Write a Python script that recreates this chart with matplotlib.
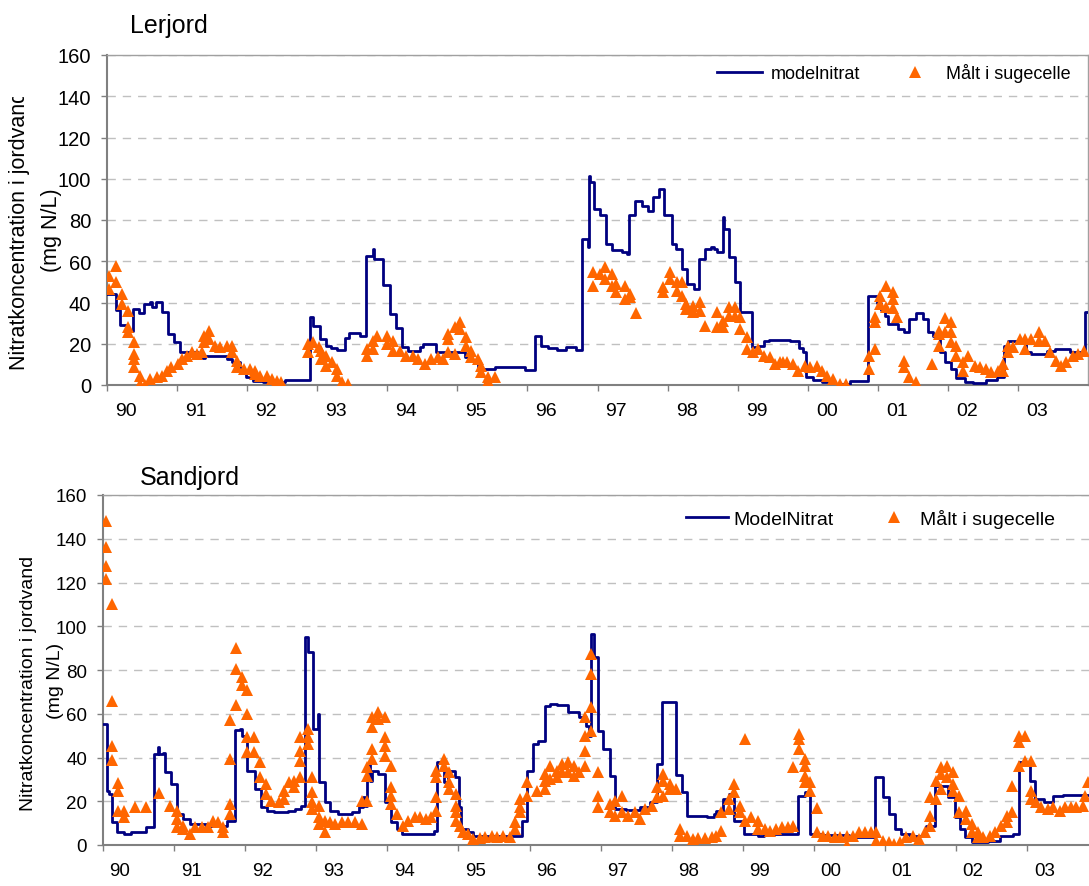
import matplotlib

matplotlib.use("Agg")

import matplotlib.pyplot as plt
import numpy as np
from matplotlib.transforms import Bbox, TransformedBbox

plt.rcParams["font.family"] = ["Liberation Sans", "DejaVu Sans"]

YEAR_LABELS = ["90", "91", "92", "93", "94", "95", "96", "97", "98", "99", "00", "01", "02", "03"]

# Lerjord: model (step) and measured values, x in decimal years
lerjord_model_x = [
    1990.00, 1990.13, 1990.19, 1990.28, 1990.37, 1990.46, 1990.53, 1990.62, 1990.64, 1990.70,
    1990.79, 1990.87, 1990.96, 1991.04, 1991.30, 1991.40, 1991.71, 1991.79, 1991.90, 1991.99,
    1992.09, 1992.23, 1992.54, 1992.90, 1992.94, 1993.04, 1993.13, 1993.20, 1993.28, 1993.40,
    1993.46, 1993.61, 1993.70, 1993.79, 1993.81, 1993.94, 1994.04, 1994.12, 1994.21, 1994.30,
    1994.46, 1994.51, 1994.70, 1995.11, 1995.20, 1995.30, 1995.54, 1995.96, 1996.11, 1996.20,
    1996.30, 1996.42, 1996.55, 1996.70, 1996.78, 1996.87, 1996.88, 1996.89, 1996.95, 1997.03,
    1997.12, 1997.21, 1997.35, 1997.42, 1997.45, 1997.54, 1997.63, 1997.72, 1997.79, 1997.88,
    1997.95, 1998.06, 1998.12, 1998.20, 1998.28, 1998.38, 1998.45, 1998.53, 1998.62, 1998.66,
    1998.70, 1998.79, 1998.80, 1998.87, 1998.96, 1999.03, 1999.20, 1999.30, 1999.37, 1999.45,
    1999.75, 1999.88, 1999.93, 1999.98, 2000.08, 2000.20, 2000.35, 2000.60, 2000.86, 2000.99,
    2001.05, 2001.10, 2001.15, 2001.29, 2001.37, 2001.45, 2001.55, 2001.64, 2001.72, 2001.79,
    2001.89, 2001.96, 2002.05, 2002.12, 2002.24, 2002.36, 2002.55, 2002.70, 2002.80, 2002.86,
    2003.00, 2003.12, 2003.19, 2003.41, 2003.53, 2003.74, 2003.96, 2004.00,
]
lerjord_model_y = [
    44.0, 36.5, 29.2, 26.3, 36.8, 34.9, 39.3, 40.4, 38.0, 40.4,
    35.5, 24.7, 21.0, 15.8, 13.0, 14.2, 12.6, 11.0, 6.9, 3.7,
    2.1, 1.3, 2.4, 33.1, 28.8, 22.3, 19.1, 17.8, 17.0, 22.8,
    25.0, 23.9, 62.7, 65.9, 61.1, 48.6, 34.4, 27.5, 18.3, 16.5,
    18.3, 19.9, 15.8, 13.4, 11.8, 7.8, 8.9, 7.3, 23.9, 19.1,
    18.0, 17.1, 18.3, 17.1, 70.8, 66.8, 101.2, 98.3, 85.3, 82.4,
    68.4, 65.6, 64.5, 63.5, 82.4, 89.4, 86.9, 84.5, 91.0, 95.0,
    82.4, 68.4, 65.9, 56.2, 49.0, 46.5, 61.1, 65.9, 67.0, 66.0,
    64.3, 81.3, 75.6, 61.9, 50.1, 35.5, 18.3, 19.0, 21.2, 21.8,
    21.2, 17.8, 15.8, 3.7, 2.6, 1.3, 0.5, 1.8, 43.3, 39.8,
    36.5, 33.6, 29.6, 27.2, 25.9, 32.0, 34.9, 32.0, 25.9, 23.9,
    15.8, 11.3, 7.8, 3.2, 1.6, 0.8, 2.6, 3.7, 19.1, 21.5,
    20.5, 15.8, 15.0, 16.5, 17.5, 16.2, 35.2, 35.2,
]
lerjord_obs_x = [
    1990.03, 1990.03, 1990.13, 1990.13, 1990.21, 1990.21, 1990.30, 1990.30, 1990.30, 1990.38,
    1990.38, 1990.38, 1990.38, 1990.47, 1990.47, 1990.54, 1990.61, 1990.71, 1990.78, 1990.85,
    1990.92, 1991.02, 1991.07, 1991.14, 1991.21, 1991.28, 1991.35, 1991.38, 1991.38, 1991.45,
    1991.45, 1991.54, 1991.61, 1991.71, 1991.78, 1991.78, 1991.86, 1991.86, 1991.95, 1992.04,
    1992.11, 1992.11, 1992.18, 1992.28, 1992.35, 1992.42, 1992.49, 1992.87, 1992.87, 1992.94,
    1993.02, 1993.06, 1993.06, 1993.13, 1993.13, 1993.21, 1993.28, 1993.28, 1993.35, 1993.44,
    1993.71, 1993.71, 1993.80, 1993.80, 1993.86, 1993.99, 1993.99, 1994.08, 1994.08, 1994.18,
    1994.27, 1994.37, 1994.44, 1994.54, 1994.63, 1994.73, 1994.80, 1994.87, 1994.87, 1994.87,
    1994.97, 1994.97, 1995.04, 1995.04, 1995.13, 1995.13, 1995.20, 1995.20, 1995.30, 1995.34,
    1995.34, 1995.44, 1995.44, 1995.54, 1996.94, 1996.94, 1997.03, 1997.11, 1997.11, 1997.20,
    1997.20, 1997.27, 1997.27, 1997.39, 1997.39, 1997.46, 1997.46, 1997.55, 1997.94, 1997.94,
    1998.03, 1998.03, 1998.13, 1998.13, 1998.20, 1998.20, 1998.27, 1998.27, 1998.37, 1998.37,
    1998.46, 1998.46, 1998.53, 1998.70, 1998.70, 1998.79, 1998.79, 1998.87, 1998.87, 1998.96,
    1998.96, 1999.03, 1999.03, 1999.13, 1999.13, 1999.22, 1999.29, 1999.37, 1999.46, 1999.53,
    1999.60, 1999.65, 1999.70, 1999.79, 1999.86, 1999.96, 2000.03, 2000.13, 2000.20, 2000.27,
    2000.36, 2000.46, 2000.55, 2000.88, 2000.88, 2000.96, 2000.96, 2000.96, 2001.03, 2001.03,
    2001.12, 2001.12, 2001.21, 2001.21, 2001.21, 2001.28, 2001.38, 2001.38, 2001.45, 2001.54,
    2001.78, 2001.88, 2001.88, 2001.88, 2001.96, 2001.96, 2002.05, 2002.05, 2002.05, 2002.12,
    2002.12, 2002.22, 2002.22, 2002.29, 2002.39, 2002.46, 2002.55, 2002.62, 2002.72, 2002.79,
    2002.79, 2002.86, 2002.86, 2002.93, 2003.03, 2003.10, 2003.10, 2003.19, 2003.30, 2003.30,
    2003.39, 2003.46, 2003.54, 2003.62, 2003.69, 2003.79, 2003.86, 2003.95,
]
lerjord_obs_y = [
    46.5, 53.0, 57.8, 49.8, 44.1, 39.3, 36.0, 28.0, 25.5, 20.7,
    15.0, 12.6, 8.6, 4.5, 0.5, 0.0, 2.9, 3.7, 4.5, 6.9,
    8.5, 10.2, 12.6, 14.2, 15.8, 15.0, 15.8, 23.9, 20.7, 26.3,
    22.3, 19.1, 18.3, 19.1, 19.1, 15.8, 11.8, 8.5, 7.8, 7.8,
    6.9, 5.3, 4.5, 4.5, 2.9, 2.1, 1.3, 19.9, 15.8, 20.7,
    18.3, 16.6, 12.6, 14.2, 9.4, 11.0, 7.8, 4.5, 1.3, 0.5,
    17.5, 14.2, 21.5, 17.5, 23.9, 23.9, 20.0, 21.5, 16.7, 16.6,
    14.2, 14.2, 12.6, 10.2, 12.6, 13.4, 12.6, 15.8, 22.3, 24.7,
    15.0, 28.0, 30.4, 27.2, 23.1, 19.1, 16.6, 13.4, 12.6, 9.4,
    6.1, 3.7, 2.1, 3.7, 54.6, 48.1, 53.8, 57.0, 51.4, 53.8,
    48.1, 49.0, 44.9, 48.1, 41.7, 44.1, 42.5, 34.9, 47.3, 44.9,
    54.6, 51.4, 49.8, 45.7, 49.8, 43.3, 39.3, 36.8, 38.4, 35.2,
    40.1, 36.0, 28.8, 35.2, 28.0, 31.2, 28.0, 37.6, 33.6, 37.6,
    33.6, 27.2, 32.8, 23.1, 17.5, 15.8, 17.5, 14.2, 13.4, 10.2,
    11.0, 11.0, 11.0, 10.2, 6.9, 9.4, 8.5, 9.4, 6.9, 4.5,
    2.9, 0.5, 0.5, 7.8, 14.2, 17.5, 30.4, 32.8, 43.3, 39.3,
    48.1, 37.6, 44.9, 41.7, 37.2, 32.8, 11.8, 8.5, 3.7, 1.3,
    10.2, 26.3, 24.7, 19.1, 32.3, 25.5, 30.4, 25.5, 20.7, 19.1,
    14.2, 11.0, 6.9, 14.2, 9.4, 8.5, 7.8, 6.1, 6.9, 10.2,
    6.9, 19.1, 15.8, 18.3, 22.3, 22.3, 17.5, 22.3, 25.5, 21.5,
    21.5, 15.8, 11.8, 9.4, 11.0, 14.2, 15.0, 16.6,
]

# Sandjord: model (step) and measured values
sandjord_model_x = [
    1990.00, 1990.03, 1990.05, 1990.09, 1990.12, 1990.19, 1990.29, 1990.40, 1990.55, 1990.61,
    1990.72, 1990.77, 1990.79, 1990.85, 1990.87, 1990.96, 1991.04, 1991.13, 1991.22, 1991.45,
    1991.74, 1991.86, 1991.93, 1991.96, 1992.03, 1992.14, 1992.22, 1992.30, 1992.40, 1992.60,
    1992.70, 1992.79, 1992.84, 1992.88, 1992.96, 1993.03, 1993.04, 1993.12, 1993.19, 1993.30,
    1993.50, 1993.60, 1993.66, 1993.68, 1993.71, 1993.76, 1993.78, 1993.87, 1993.97, 1994.05,
    1994.13, 1994.20, 1994.65, 1994.70, 1994.79, 1994.85, 1994.95, 1995.01, 1995.04, 1995.14,
    1995.21, 1995.89, 1995.96, 1996.05, 1996.12, 1996.22, 1996.29, 1996.38, 1996.54, 1996.70,
    1996.80, 1996.84, 1996.87, 1996.90, 1996.97, 1997.04, 1997.13, 1997.20, 1997.35, 1997.55,
    1997.69, 1997.79, 1997.87, 1997.96, 1998.06, 1998.14, 1998.21, 1998.50, 1998.60, 1998.63,
    1998.72, 1998.80, 1998.87, 1999.01, 1999.22, 1999.30, 1999.78, 1999.87, 1999.94, 2000.10,
    2000.50, 2000.86, 2000.97, 2001.05, 2001.14, 2001.22, 2001.35, 2001.58, 2001.70, 2001.89,
    2001.98, 2002.05, 2002.13, 2002.22, 2002.45, 2002.62, 2002.80, 2002.89, 2003.04, 2003.11,
    2003.23, 2003.37, 2003.50, 2003.90,
]
sandjord_model_y = [
    55.3, 55.3, 24.8, 23.3, 10.4, 5.8, 5.0, 5.8, 5.8, 8.1,
    41.6, 44.7, 41.6, 42.0, 33.2, 27.9, 14.2, 11.9, 9.6, 8.5,
    11.1, 52.7, 53.0, 50.0, 34.0, 25.6, 17.2, 15.7, 14.9, 15.5,
    16.5, 18.0, 94.9, 88.1, 53.0, 59.9, 28.7, 19.5, 15.7, 14.2,
    15.0, 17.5, 22.0, 18.0, 37.0, 29.4, 34.0, 32.5, 19.5, 10.4,
    7.3, 5.0, 6.5, 37.8, 28.7, 34.0, 30.9, 17.2, 7.3, 6.1,
    4.0, 11.1, 34.0, 46.2, 47.7, 63.4, 64.5, 64.0, 60.6, 58.4,
    54.5, 50.0, 96.4, 85.8, 52.2, 43.9, 31.7, 16.5, 16.0, 17.5,
    19.5, 37.0, 65.2, 65.2, 32.0, 24.4, 13.4, 13.0, 14.2, 15.7,
    21.0, 23.3, 11.1, 5.0, 4.0, 5.0, 22.5, 24.1, 5.0, 4.5,
    3.5, 30.9, 21.8, 14.2, 7.3, 5.0, 4.0, 8.8, 27.1, 21.8,
    12.7, 7.3, 3.5, 1.2, 2.0, 4.0, 5.0, 37.8, 29.4, 21.0,
    19.5, 22.3, 22.9, 22.5,
]
sandjord_obs_x = [
    1990.04, 1990.04, 1990.04, 1990.04, 1990.13, 1990.13, 1990.13, 1990.13, 1990.21, 1990.21,
    1990.21, 1990.30, 1990.30, 1990.45, 1990.61, 1990.79, 1990.94, 1991.04, 1991.04, 1991.04,
    1991.12, 1991.12, 1991.22, 1991.29, 1991.39, 1991.48, 1991.55, 1991.62, 1991.69, 1991.69,
    1991.79, 1991.79, 1991.79, 1991.79, 1991.87, 1991.87, 1991.87, 1991.95, 1991.95, 1992.03,
    1992.03, 1992.03, 1992.03, 1992.13, 1992.13, 1992.21, 1992.21, 1992.29, 1992.29, 1992.37,
    1992.47, 1992.54, 1992.54, 1992.61, 1992.69, 1992.69, 1992.77, 1992.77, 1992.77, 1992.77,
    1992.88, 1992.88, 1992.88, 1992.94, 1992.94, 1992.94, 1992.94, 1993.04, 1993.04, 1993.04,
    1993.12, 1993.12, 1993.19, 1993.26, 1993.36, 1993.45, 1993.54, 1993.64, 1993.64, 1993.71,
    1993.71, 1993.71, 1993.79, 1993.79, 1993.79, 1993.79, 1993.87, 1993.87, 1993.97, 1993.97,
    1993.97, 1993.97, 1994.05, 1994.05, 1994.05, 1994.05, 1994.13, 1994.22, 1994.29, 1994.39,
    1994.46, 1994.55, 1994.62, 1994.69, 1994.69, 1994.69, 1994.69, 1994.79, 1994.79, 1994.87,
    1994.87, 1994.87, 1994.96, 1994.96, 1994.96, 1994.96, 1995.02, 1995.06, 1995.14, 1995.21,
    1995.30, 1995.37, 1995.47, 1995.54, 1995.63, 1995.72, 1995.79, 1995.79, 1995.87, 1995.87,
    1995.87, 1995.96, 1995.96, 1996.10, 1996.22, 1996.22, 1996.22, 1996.29, 1996.29, 1996.38,
    1996.38, 1996.45, 1996.45, 1996.54, 1996.54, 1996.63, 1996.63, 1996.70, 1996.78, 1996.78,
    1996.78, 1996.78, 1996.87, 1996.87, 1996.87, 1996.87, 1996.97, 1996.97, 1996.97, 1997.13,
    1997.13, 1997.20, 1997.20, 1997.30, 1997.30, 1997.39, 1997.48, 1997.55, 1997.62, 1997.72,
    1997.79, 1997.79, 1997.88, 1997.88, 1997.88, 1997.97, 1997.97, 1998.06, 1998.12, 1998.12,
    1998.21, 1998.30, 1998.37, 1998.47, 1998.56, 1998.63, 1998.70, 1998.70, 1998.80, 1998.80,
    1998.87, 1998.87, 1998.96, 1998.96, 1999.03, 1999.03, 1999.12, 1999.22, 1999.22, 1999.31,
    1999.38, 1999.47, 1999.55, 1999.64, 1999.71, 1999.71, 1999.79, 1999.79, 1999.79, 1999.87,
    1999.87, 1999.87, 1999.87, 1999.95, 1999.95, 2000.05, 2000.05, 2000.13, 2000.20, 2000.30,
    2000.37, 2000.47, 2000.47, 2000.55, 2000.64, 2000.72, 2000.80, 2000.88, 2000.88, 2000.97,
    2001.05, 2001.12, 2001.21, 2001.30, 2001.40, 2001.48, 2001.56, 2001.63, 2001.63, 2001.63,
    2001.72, 2001.72, 2001.79, 2001.79, 2001.79, 2001.87, 2001.87, 2001.96, 2001.96, 2001.96,
    2002.04, 2002.04, 2002.14, 2002.14, 2002.22, 2002.22, 2002.31, 2002.31, 2002.38, 2002.48,
    2002.55, 2002.63, 2002.71, 2002.71, 2002.79, 2002.79, 2002.89, 2002.89, 2002.89, 2002.97,
    2002.97, 2003.06, 2003.06, 2003.06, 2003.13, 2003.20, 2003.30, 2003.37, 2003.46, 2003.53,
    2003.62, 2003.69, 2003.79, 2003.81, 2003.86,
]
sandjord_obs_y = [
    148.3, 136.1, 127.7, 121.6, 110.2, 66.0, 45.4, 39.0, 28.3, 24.8,
    15.7, 15.7, 12.7, 17.2, 17.2, 23.8, 18.0, 15.7, 11.9, 8.1,
    8.8, 7.3, 5.0, 8.1, 8.1, 8.1, 11.1, 10.4, 8.1, 5.8,
    14.2, 18.7, 39.3, 57.3, 89.9, 80.5, 64.0, 76.7, 73.1, 70.9,
    59.9, 49.2, 42.4, 49.2, 42.4, 37.8, 30.9, 27.9, 23.3, 20.3,
    19.5, 21.0, 24.8, 28.7, 26.4, 29.4, 49.2, 43.1, 38.5, 30.9,
    53.0, 49.2, 46.2, 30.9, 24.1, 19.5, 16.5, 18.0, 12.7, 9.6,
    5.8, 11.1, 10.4, 9.6, 10.4, 10.4, 10.4, 9.6, 20.3, 20.3,
    31.7, 35.5, 39.3, 43.9, 53.8, 58.4, 60.9, 57.8, 58.4, 49.2,
    45.4, 40.8, 36.2, 26.4, 22.5, 18.7, 14.2, 8.8, 11.1, 12.7,
    12.7, 11.9, 12.7, 15.7, 21.8, 30.9, 34.0, 39.3, 36.2, 33.2,
    28.7, 25.6, 23.3, 18.0, 14.9, 11.1, 8.8, 5.8, 5.0, 2.7,
    3.0, 3.5, 4.0, 3.5, 4.0, 3.5, 7.3, 10.4, 14.9, 17.2,
    21.0, 22.5, 28.7, 24.8, 25.6, 29.4, 32.5, 36.2, 30.2, 34.0,
    30.9, 37.0, 33.2, 37.8, 33.2, 36.2, 31.7, 33.2, 58.4, 50.0,
    43.1, 36.2, 87.3, 78.2, 62.9, 52.2, 33.2, 22.5, 17.2, 18.7,
    14.9, 20.3, 13.4, 22.5, 14.9, 13.4, 14.9, 11.9, 16.5, 18.0,
    21.8, 26.4, 32.5, 29.4, 22.5, 27.9, 25.6, 25.6, 7.3, 4.3,
    4.3, 2.7, 3.0, 3.0, 3.5, 4.3, 6.5, 14.9, 16.5, 21.0,
    27.9, 24.1, 18.0, 14.9, 48.5, 11.1, 12.7, 11.1, 7.3, 7.3,
    6.5, 7.3, 8.1, 8.1, 35.5, 8.8, 50.7, 48.5, 43.9, 39.3,
    36.2, 31.7, 28.7, 28.7, 24.8, 16.8, 5.8, 4.3, 4.0, 3.5,
    3.5, 0.0, 4.0, 4.3, 5.8, 5.8, 6.1, 5.8, 2.0, 2.0,
    1.2, 0.5, 1.2, 3.5, 4.3, 2.7, 5.8, 8.8, 13.4, 21.8,
    21.0, 29.4, 25.6, 32.5, 35.5, 36.2, 30.9, 33.2, 27.9, 24.8,
    22.5, 14.9, 15.7, 11.9, 9.6, 5.8, 5.8, 3.5, 3.5, 4.3,
    5.8, 8.8, 10.4, 13.4, 14.9, 27.1, 36.2, 46.9, 50.0, 50.0,
    38.5, 38.5, 24.8, 21.0, 19.5, 17.2, 16.5, 17.2, 15.7, 17.2,
    17.2, 17.2, 18.0, 22.5, 28.7,
]

W, H = 1089, 887
LINE_COLOR = "#000080"
MARKER_COLOR = "#FF6600"
GRID_COLOR = "#c0c0c0"


def style_axes(ax, label_offset, xtick_size, ytick_size):
    ax.set_ylim(0, 160)
    ax.set_yticks(np.arange(0, 161, 20))
    ax.yaxis.grid(True, color=GRID_COLOR, linestyle=(0, (6, 5)), linewidth=1.0)
    ax.set_axisbelow(True)

    years = np.arange(1990, 2004)
    ax.set_xticks(years)
    ax.set_xticklabels([])
    ax.set_xticks(years + label_offset, minor=True)
    ax.set_xticklabels(YEAR_LABELS, minor=True, fontsize=xtick_size)
    ax.tick_params(axis="x", which="major", length=4.5, width=1.0, color="#808080")
    ax.tick_params(axis="x", which="minor", length=0, pad=12)
    ax.tick_params(axis="y", length=4.5, width=1.0, color="#808080", labelsize=ytick_size, pad=7)

    for side in ["left", "bottom"]:
        ax.spines[side].set_color("#808080")
        ax.spines[side].set_linewidth(1.5)
    for side in ["top", "right"]:
        ax.spines[side].set_color("#a0a0a0")
        ax.spines[side].set_linewidth(1.0)


def draw_panel(ax, model_x, model_y, obs_x, obs_y, model_label):
    ax.plot(model_x, model_y, drawstyle="steps-post", color=LINE_COLOR, linewidth=2.0,
            label=model_label, zorder=3)
    ax.plot(obs_x, obs_y, linestyle="none", marker="^", markersize=8.5, color=MARKER_COLOR,
            markeredgewidth=0, label="Målt i sugecelle", zorder=4)


def main() -> None:
    fig = plt.figure(figsize=(W / 100, H / 100), dpi=100)

    # top panel: Lerjord
    ax1 = fig.add_axes([107 / W, 1 - 386 / H, 981 / W, 330 / H])
    draw_panel(ax1, lerjord_model_x, lerjord_model_y, lerjord_obs_x, lerjord_obs_y, "modelnitrat")
    ax1.set_xlim(1990, 2004)
    style_axes(ax1, 0.27, 14, 14.5)
    ax1.legend(loc="upper right", bbox_to_anchor=(0.982, 0.975), ncol=2, frameon=False,
               fontsize=13, handlelength=2.5, handletextpad=0.45, columnspacing=1.8,
               borderpad=0, borderaxespad=0)

    # bottom panel: Sandjord (cut at right edge)
    ax2 = fig.add_axes([103 / W, 1 - 846 / H, (W - 103) / W, 350 / H])
    draw_panel(ax2, sandjord_model_x, sandjord_model_y, sandjord_obs_x, sandjord_obs_y, "ModelNitrat")
    ax2.set_xlim(1990, 2003.87)
    style_axes(ax2, 0.24, 13.5, 13.5)
    ax2.spines["right"].set_visible(False)
    ax2.legend(loc="upper right", bbox_to_anchor=(0.9655, 0.96), ncol=2, frameon=False,
               fontsize=14, handlelength=2.2, handletextpad=0.25, columnspacing=2.0,
               borderpad=0, borderaxespad=0)

    fig.text(130 / W, 1 - 33 / H, "Lerjord", fontsize=18, va="baseline")
    fig.text(140 / W, 1 - 485 / H, "Sandjord", fontsize=18, va="baseline")

    # y labels (top one is clipped at the top like in the original)
    top_label = fig.text(20 / W, 1 - 230 / H, "Nitratkoncentration i jordvand", rotation=90,
                         fontsize=15.5, ha="center", va="center")
    top_label.set_clip_box(TransformedBbox(Bbox([[0, 0], [1, 1 - 98 / H]]), fig.transFigure))
    top_label.set_clip_on(True)
    fig.text(51 / W, 1 - 230 / H, "(mg N/L)", rotation=90, fontsize=15.5, ha="center", va="center")

    fig.text(29 / W, 1 - 683 / H, "Nitratkoncentration i jordvand", rotation=90,
             fontsize=14, ha="center", va="center")
    fig.text(56 / W, 1 - 681 / H, "(mg N/L)", rotation=90, fontsize=14, ha="center", va="center")

    fig.savefig("out.png", dpi=100)
    plt.close(fig)


if __name__ == "__main__":
    main()
